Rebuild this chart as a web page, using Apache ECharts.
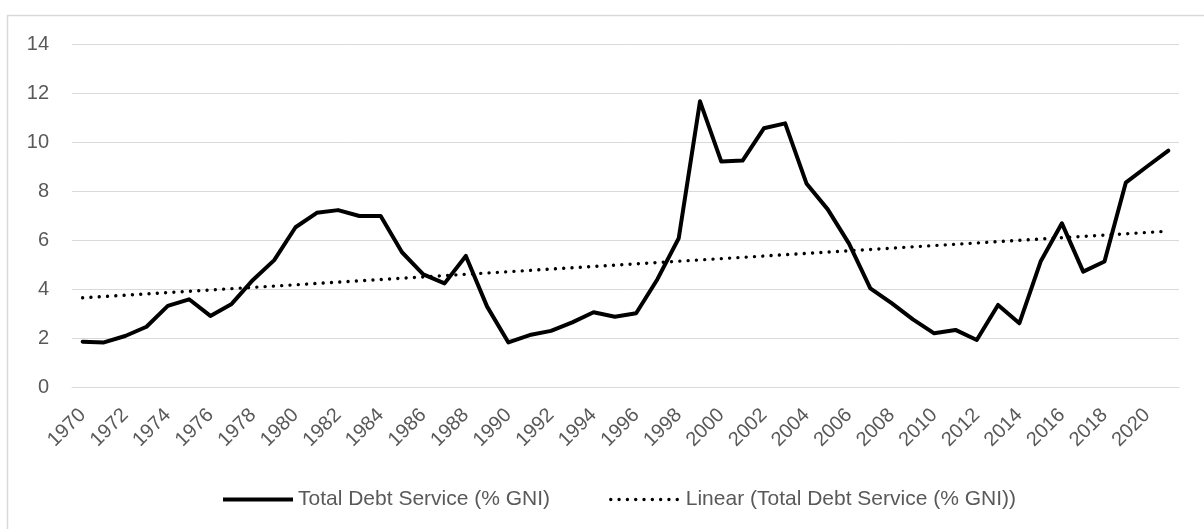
<!DOCTYPE html>
<html>
<head>
<meta charset="utf-8">
<script src="https://cdn.jsdelivr.net/npm/echarts@6/dist/echarts.min.js"></script>
<style>
html,body{margin:0;padding:0;background:#fff;}
#chart{width:1204px;height:529px;}
</style>
</head>
<body>
<div id="chart"></div>
<script>
const years = [];
for (let y = 1970; y <= 2021; y++) years.push(String(y));

const debtService = [
  1.85, 1.82, 2.08, 2.46, 3.31, 3.58, 2.90, 3.39, 4.37, 5.18,
  6.52, 7.11, 7.22, 6.98, 6.98, 5.50, 4.60, 4.23, 5.35, 3.28,
  1.82, 2.12, 2.29, 2.64, 3.05, 2.87, 3.01, 4.40, 6.07, 11.66,
  9.20, 9.24, 10.56, 10.76, 8.31, 7.25, 5.85, 4.03, 3.42, 2.76,
  2.19, 2.33, 1.92, 3.35, 2.60, 5.12, 6.68, 4.71, 5.12, 8.34,
  9.00, 9.65
];

const trendYears = ['1970', '2021'];
const trendValues = [3.64, 6.36];

const yTicks = { min: 0, max: 14, interval: 2 };

const seriesNames = ['Total Debt Service (% GNI)', 'Linear (Total Debt Service (% GNI))'];

const font = 'Liberation Sans, Arial, sans-serif';
const textColor = '#595959';
const solidStyle = { color: '#000000', width: 4, join: 'round', cap: 'round' };
const dotStyle = { color: '#000000', width: 3.4, type: [0.01, 8.3], cap: 'round' };

const chart = echarts.init(document.getElementById('chart'), null, { renderer: 'canvas' });
chart.setOption({
  animation: false,
  backgroundColor: '#ffffff',
  graphic: [{
    type: 'rect',
    shape: { x: 7.5, y: 15.5, width: 1210, height: 530 },
    style: { fill: 'none', stroke: '#d9d9d9', lineWidth: 1.5 },
    silent: true,
    z: -1
  }],
  grid: { left: 72, right: 25, top: 44, bottom: 142, containLabel: false },
  legend: {
    left: 216,
    top: 484,
    itemWidth: 70,
    itemHeight: 12,
    itemGap: 59,
    itemStyle: { opacity: 0 },
    textStyle: { fontFamily: font, fontSize: 21, color: textColor },
    data: [
      { name: seriesNames[0], lineStyle: { width: 4, cap: 'butt' } },
      { name: seriesNames[1], lineStyle: { width: 3.4, type: [0.01, 8.3], cap: 'round' } }
    ]
  },
  xAxis: {
    type: 'category',
    data: years,
    boundaryGap: true,
    axisLine: { show: true, lineStyle: { color: '#d9d9d9', width: 1 } },
    axisTick: { show: false },
    axisLabel: {
      interval: 1,
      rotate: 45,
      margin: 25,
      fontFamily: font,
      fontSize: 20,
      color: textColor
    },
    splitLine: { show: false }
  },
  yAxis: {
    type: 'value',
    min: yTicks.min,
    max: yTicks.max,
    interval: yTicks.interval,
    axisLine: { show: false },
    axisTick: { show: false },
    axisLabel: { margin: 23, fontFamily: font, fontSize: 20, color: textColor },
    splitLine: { lineStyle: { color: '#d9d9d9', width: 1 } }
  },
  series: [
    {
      name: seriesNames[0],
      type: 'line',
      data: debtService,
      symbol: 'none',
      lineStyle: solidStyle,
      itemStyle: { color: '#000000' },
      z: 3
    },
    {
      name: seriesNames[1],
      type: 'line',
      data: trendYears.map((y, i) => [y, trendValues[i]]),
      symbol: 'none',
      lineStyle: dotStyle,
      itemStyle: { color: '#000000' },
      z: 2
    }
  ]
});
</script>
</body>
</html>
